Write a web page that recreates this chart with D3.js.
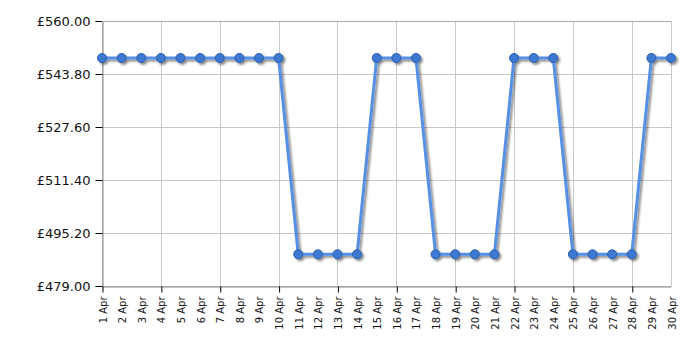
<!DOCTYPE html>
<html>
<head>
<meta charset="utf-8">
<style>
	body { margin: 0; background: #fff; }
	text { font-family: "DejaVu Sans", Verdana, sans-serif; fill: #111; }
	.grid line { stroke: #c8c8c8; stroke-width: 1; }
</style>
</head>
<body>
<svg width="700" height="350"></svg>
<script src="https://cdn.jsdelivr.net/npm/d3@7"></script>
<script>

	var days = d3.range(1, 31).map(function (d) { return d + " Apr"; });
	var prices = [548.7, 548.7, 548.7, 548.7, 548.7, 548.7, 548.7, 548.7, 548.7, 548.7,
		488.7, 488.7, 488.7, 488.7,
		548.7, 548.7, 548.7,
		488.7, 488.7, 488.7, 488.7,
		548.7, 548.7, 548.7,
		488.7, 488.7, 488.7, 488.7,
		548.7, 548.7];
	var yTicks = [479, 495.2, 511.4, 527.6, 543.8, 560];

	var svg = d3.select("svg"),
		plotLeft = 102, plotRight = 671, plotTop = 21, plotBottom = 286;

	var x = d3.scalePoint().domain(days).range([plotLeft, plotRight]);
	var y = d3.scaleLinear().domain([479, 560]).range([plotBottom, plotTop]);

	// every third day gets a grid line and a tick
	var majorDays = days.filter(function (d, i) { return i % 3 === 0; });

	var defs = svg.append("defs");
	defs.append("filter").attr("id", "shadow")
		.attr("x", "-10%").attr("y", "-10%").attr("width", "120%").attr("height", "120%")
		.append("feDropShadow")
		.attr("dx", 2).attr("dy", 2).attr("stdDeviation", 1.2)
		.attr("flood-color", "#000").attr("flood-opacity", 0.45);

	var grid = svg.append("g").attr("class", "grid");
	grid.selectAll("line.h").data(yTicks).enter().append("line")
		.attr("x1", plotLeft).attr("x2", plotRight)
		.attr("y1", function (d) { return Math.round(y(d)) + 0.5; })
		.attr("y2", function (d) { return Math.round(y(d)) + 0.5; });
	grid.selectAll("line.v").data(majorDays.concat([days[days.length - 1]])).enter().append("line")
		.attr("y1", plotTop).attr("y2", plotBottom)
		.attr("x1", function (d) { return Math.round(x(d)) + 0.5; })
		.attr("x2", function (d) { return Math.round(x(d)) + 0.5; });

	// axes
	var yAxis = svg.append("g")
		.attr("transform", "translate(" + (plotLeft + 0.5) + ",0)")
		.call(d3.axisLeft(y).tickValues(yTicks).tickSize(7).tickPadding(5)
			.tickFormat(function (d) { return "£" + d3.format(".2f")(d); }));
	yAxis.select(".domain").attr("stroke", "#888");
	yAxis.selectAll(".tick line").attr("stroke", "#000");
	yAxis.selectAll("text").style("font-size", "13px").attr("fill", "#111");

	var xAxis = svg.append("g")
		.attr("transform", "translate(0," + (plotBottom + 0.5) + ")")
		.call(d3.axisBottom(x).tickSize(0).tickPadding(0));
	xAxis.select(".domain").attr("stroke", "#888");
	xAxis.selectAll(".tick line").remove();
	xAxis.selectAll("text")
		.style("font-size", "10px")
		.attr("text-anchor", "end")
		.attr("dy", null)
		.attr("transform", "translate(4,10) rotate(-90)");
	xAxis.selectAll(".tick").filter(function (d, i) { return i % 3 === 0; })
		.append("line").attr("stroke", "#000").attr("y1", 0).attr("y2", 6)
		.attr("x1", 0.5).attr("x2", 0.5);

	// series
	var line = d3.line()
		.x(function (d, i) { return x(days[i]); })
		.y(function (d) { return y(d); });

	var series = svg.append("g").attr("filter", "url(#shadow)");
	series.append("path")
		.datum(prices)
		.attr("fill", "none")
		.attr("stroke", "#5590e6")
		.attr("stroke-width", 3)
		.attr("stroke-linejoin", "round")
		.attr("d", line);

	series.selectAll("circle").data(prices).enter().append("circle")
		.attr("cx", function (d, i) { return x(days[i]); })
		.attr("cy", function (d) { return y(d); })
		.attr("r", 4.5)
		.attr("fill", "#3d78d3")
		.attr("stroke", "#2c5ea8")
		.attr("stroke-width", 1);

	// top border
	svg.append("line").attr("x1", plotLeft).attr("x2", plotRight)
		.attr("y1", plotTop + 0.5).attr("y2", plotTop + 0.5).attr("stroke", "#aaa");

</script>
</body>
</html>
